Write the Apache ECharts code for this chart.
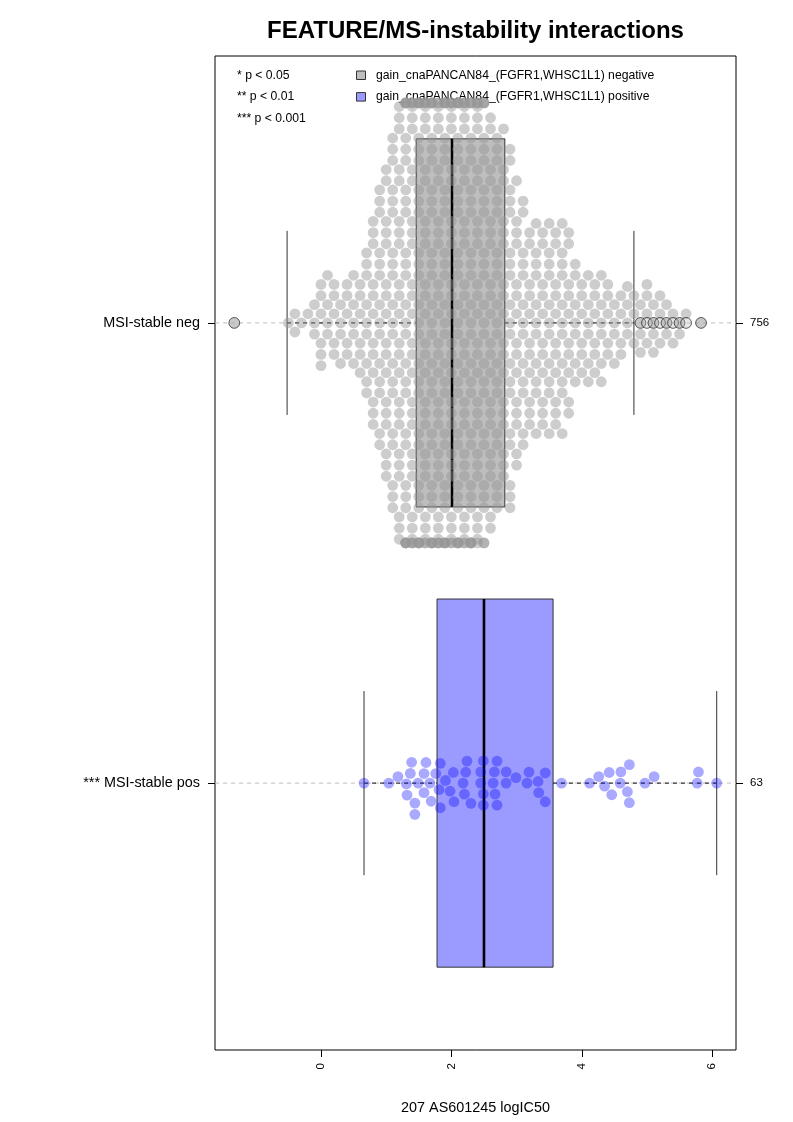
<!DOCTYPE html>
<html><head><meta charset="utf-8">
<script src="https://cdn.jsdelivr.net/npm/echarts@6/dist/echarts.min.js"></script>
<style>html,body{margin:0;padding:0;background:#fff}#c{width:793px;height:1122px}</style>
</head><body><div id="c"></div>
<script>
// ---------- data ----------
const titleText = 'FEATURE/MS-instability interactions';
const xAxisName = '207 AS601245 logIC50';
const groupNames = ['MSI-stable neg', '*** MSI-stable pos'];
const groupPositions = [1, 2];
const xTickValues = [0, 2, 4, 6];
const xRange = [-1.626, 6.366];
const yRange = [0.42, 2.58];
const pLegend = ['* p < 0.05', '** p < 0.01', '*** p < 0.001'];
const featureLegend = ['gain_cnaPANCAN84_(FGFR1,WHSC1L1) negative', 'gain_cnaPANCAN84_(FGFR1,WHSC1L1) positive'];

// negative group: estimated values (bin centres, 0.1 wide) and how many points sit at each
const negBinValues = [-1.33, -0.5, -0.4, -0.3, -0.2, -0.1, 0.0, 0.1, 0.2, 0.3, 0.4, 0.5, 0.6, 0.7, 0.8, 0.9, 1.0, 1.1, 1.2, 1.3, 1.4, 1.5, 1.6, 1.7, 1.8, 1.9, 2.0, 2.1, 2.2, 2.3, 2.4, 2.5, 2.6, 2.7, 2.8, 2.9, 3.0, 3.1, 3.2, 3.3, 3.4, 3.5, 3.6, 3.7, 3.8, 3.9, 4.0, 4.1, 4.2, 4.3, 4.4, 4.5, 4.6, 4.7, 4.8, 4.9, 5.0, 5.1, 5.2, 5.3, 5.4, 5.5, 5.6, 5.83];
const negBinCounts = [1, 1, 2, 1, 1, 3, 6, 4, 5, 4, 5, 5, 6, 9, 12, 14, 17, 20, 23, 28, 29, 28, 28, 28, 28, 28, 28, 28, 28, 27, 27, 25, 21, 20, 18, 19, 15, 13, 11, 11, 11, 11, 11, 11, 10, 7, 6, 6, 6, 6, 5, 4, 4, 4, 3, 4, 4, 4, 3, 3, 2, 2, 1, 1];
// positive group: individual values
const posValues = [0.66, 1.04, 1.18, 1.44, 1.44, 1.37, 1.31, 1.49, 1.32, 1.39, 1.58, 1.69, 1.67, 1.58, 1.61, 1.76, 1.83, 1.81, 1.91, 1.83, 1.98, 2.04, 2.03, 2.18, 2.20, 2.30, 2.22, 2.24, 2.45, 2.49, 2.45, 2.49, 2.49, 2.64, 2.66, 2.70, 2.67, 2.70, 2.84, 2.84, 2.99, 3.16, 3.19, 3.33, 3.44, 3.34, 3.44, 3.69, 4.12, 4.26, 4.35, 4.42, 4.46, 4.60, 4.59, 4.73, 4.70, 4.73, 4.97, 5.11, 5.79, 5.77, 6.07];
// box statistics [lower whisker, Q1, median, Q3, upper whisker]
const negStats = [-0.52, 1.46, 2.01, 2.82, 4.80];
const posStats = [0.66, 1.78, 2.50, 3.56, 6.07];

// ---------- derived ----------
const negValues = [];
negBinValues.forEach((v, i) => { for (let k = 0; k < negBinCounts[i]; k++) negValues.push(v); });
const groupValues = [negValues, posValues];
const groupStats = [negStats, posStats];
const groupCounts = groupValues.map(a => a.length);
const negOutliers = [...new Set(negValues.filter(v => v < negStats[0] || v > negStats[4]))];

const FONT = '"Liberation Sans", Arial, Helvetica, sans-serif';
const pointColors = ['rgba(150,150,150,0.6)', 'rgba(0,0,255,0.42)'];
const boxFills = ['#bebebe', '#9b9bff'];
const legendFills = ['#bebebe', '#9b9bff'];

const chart = echarts.init(document.getElementById('c'), null, {renderer: 'canvas'});

const graphics = [
  {type: 'text', x: 475.5, y: 31, style: {text: titleText, font: 'bold 24px ' + FONT, fill: '#000', align: 'center', verticalAlign: 'middle'}},
];
pLegend.forEach((t, i) => graphics.push({type: 'text', x: 237, y: 75.5 + i * 21.4, style: {text: t, font: '12.2px ' + FONT, fill: '#000', align: 'left', verticalAlign: 'middle'}}));
featureLegend.forEach((t, i) => {
  graphics.push({type: 'rect', shape: {x: 356.5, y: 71 + i * 21.6, width: 9, height: 8.5}, style: {fill: legendFills[i], stroke: '#333', lineWidth: 1}});
  graphics.push({type: 'text', x: 376, y: 75.5 + i * 21.6, style: {text: t, font: '12.2px ' + FONT, fill: '#000', align: 'left', verticalAlign: 'middle'}});
});

const baseOption = {
  animation: false,
  backgroundColor: '#fff',
  grid: {left: 215, right: 57, top: 56, bottom: 72, show: true, borderColor: '#000', borderWidth: 1, backgroundColor: 'transparent'},
  xAxis: {
    type: 'value', min: xRange[0], max: xRange[1],
    name: xAxisName, nameLocation: 'middle', nameGap: 51,
    nameTextStyle: {fontFamily: FONT, fontSize: 14.4, color: '#000'},
    axisLine: {show: false, onZero: false},
    splitLine: {show: false},
    axisTick: {show: true, customValues: xTickValues, length: 7, lineStyle: {color: '#000'}},
    axisLabel: {show: true, customValues: xTickValues, rotate: 90, margin: 13, fontFamily: FONT, fontSize: 11.5, color: '#000'}
  },
  yAxis: [{
    type: 'value', min: yRange[0], max: yRange[1], inverse: true, position: 'left',
    axisLine: {show: false, onZero: false}, splitLine: {show: false},
    axisTick: {show: true, customValues: groupPositions, length: 7, lineStyle: {color: '#000'}},
    axisLabel: {show: true, customValues: groupPositions, margin: 15, fontFamily: FONT, fontSize: 14.4, color: '#000',
      formatter: v => groupNames[groupPositions.indexOf(Math.round(v))] || ''}
  }, {
    type: 'value', min: yRange[0], max: yRange[1], inverse: true, position: 'right',
    axisLine: {show: false, onZero: false}, splitLine: {show: false},
    axisTick: {show: true, customValues: groupPositions, length: 7, lineStyle: {color: '#000'}},
    axisLabel: {show: true, customValues: groupPositions, margin: 14, fontFamily: FONT, fontSize: 11.5, color: '#000',
      formatter: v => String(groupCounts[groupPositions.indexOf(Math.round(v))] ?? '')}
  }],
  graphic: graphics,
  series: []
};
chart.setOption(baseOption);

// ---------- beeswarm layout (pixel space, through axis scales) ----------
const D = 11.2;          // spacing between point centres, px
const LIMIT = 220;       // gutter, px from centre
function swarm(xsPx) {
  const ys = [];
  for (let i = 0; i < xsPx.length; i++) {
    const xi = xsPx[i];
    const near = [];
    for (let j = 0; j < i; j++) {
      const dx = xsPx[j] - xi;
      if (Math.abs(dx) < D) near.push([dx, ys[j]]);
    }
    const cand = [0];
    near.forEach(([dx, y]) => cand.push(y + Math.sqrt(D * D - dx * dx)));
    near.forEach(([dx, y]) => cand.push(y - Math.sqrt(D * D - dx * dx)));
    let best = Infinity;
    for (const c of cand) {
      if (Math.abs(c) >= Math.abs(best)) continue;
      let ok = true;
      for (const [dx, y] of near) { if (dx * dx + (c - y) * (c - y) < D * D * 0.999) { ok = false; break; } }
      if (ok) best = c;
    }
    ys.push(best);
  }
  return ys;
}

const scatterSeries = groupValues.map((vals, g) => {
  const sorted = vals.slice().sort((a, b) => a - b);
  const xsPx = sorted.map(v => chart.convertToPixel({xAxisIndex: 0}, v));
  const offs = swarm(xsPx).map(o => Math.max(-LIMIT, Math.min(LIMIT, o)));
  const cPx = chart.convertToPixel({yAxisIndex: 0}, groupPositions[g]);
  const data = sorted.map((v, i) => [v, chart.convertFromPixel({yAxisIndex: 0}, cPx - offs[i])]);
  return {
    type: 'scatter', data, symbol: 'circle', symbolSize: 10.8, z: 4, silent: true,
    itemStyle: {color: pointColors[g], borderWidth: 0}
  };
});

const centreLines = groupPositions.map(p => ({
  type: 'line', data: [[xRange[0], p], [xRange[1], p]], symbol: 'none', silent: true, z: 1,
  lineStyle: {color: '#bdbdbd', width: 1, type: [4, 4]}
}));

const boxSeries = {
  type: 'custom', z: 2, silent: true,
  data: groupPositions.map((p, i) => [p, ...groupStats[i]]),
  encode: {x: [1, 2, 3, 4, 5], y: 0},
  renderItem: (params, api) => {
    const pos = api.value(0);
    const lo = api.value(1), q1 = api.value(2), med = api.value(3), q3 = api.value(4), hi = api.value(5);
    const c = (x, y) => api.coord([x, y]);
    const yc = c(lo, pos)[1];
    const top = c(q1, pos - 0.4)[1], bot = c(q1, pos + 0.4)[1];
    const ct = c(lo, pos - 0.2)[1], cb = c(lo, pos + 0.2)[1];
    const xlo = c(lo, pos)[0], xq1 = c(q1, pos)[0], xmed = c(med, pos)[0], xq3 = c(q3, pos)[0], xhi = c(hi, pos)[0];
    const dash = {stroke: '#000', lineWidth: 1, lineDash: [4, 4]};
    return {type: 'group', children: [
      {type: 'line', shape: {x1: xlo, y1: yc, x2: xq1, y2: yc}, style: dash},
      {type: 'line', shape: {x1: xq3, y1: yc, x2: xhi, y2: yc}, style: dash},
      {type: 'line', shape: {x1: xlo, y1: ct, x2: xlo, y2: cb}, style: {stroke: '#333', lineWidth: 1}},
      {type: 'line', shape: {x1: xhi, y1: ct, x2: xhi, y2: cb}, style: {stroke: '#333', lineWidth: 1}},
      {type: 'rect', shape: {x: xq1, y: Math.min(top, bot), width: xq3 - xq1, height: Math.abs(bot - top)},
        style: {fill: boxFills[params.dataIndex], stroke: '#333', lineWidth: 1}},
      {type: 'line', shape: {x1: xmed, y1: top, x2: xmed, y2: bot}, style: {stroke: '#000', lineWidth: 2.6}}
    ]};
  }
};

const outlierSeries = {
  type: 'scatter', z: 5, silent: true, symbol: 'circle', symbolSize: 10.8,
  data: negOutliers.map(v => [v, groupPositions[0]]),
  itemStyle: {color: 'rgba(190,190,190,0.45)', borderColor: '#222', borderWidth: 0.9}
};

chart.setOption({series: [...centreLines, boxSeries, ...scatterSeries, outlierSeries]});
</script>
</body></html>
